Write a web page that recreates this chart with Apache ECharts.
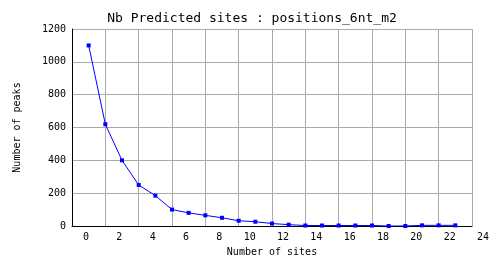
<!DOCTYPE html>
<html>
<head>
<meta charset="utf-8">
<script src="https://cdn.jsdelivr.net/npm/echarts@6/dist/echarts.min.js"></script>
<style>
html,body{margin:0;padding:0;background:#fff;}
#chart{width:504px;height:278px;}
</style>
</head>
<body>
<div id="chart"></div>
<script>
// Data
const siteCounts = [0,1,2,3,4,5,6,7,8,9,10,11,12,13,14,15,16,17,18,19,20,21,22];
const peakCounts = [1100,620,400,250,185,100,80,65,50,32,26,15,8,3,3,3,3,3,0,0,4,4,4];
const xTickLabels = [0,2,4,6,8,10,12,14,16,18,20,22,24];
const yTickLabels = [0,200,400,600,800,1000,1200];

const FONT = 'DejaVu Sans Mono';
const chart = echarts.init(document.getElementById('chart'), null, {renderer:'canvas'});
// points sit one unit right of their label position (x = count + 1)
const seriesData = siteCounts.map((c, i) => [c + 1, peakCounts[i]]);

chart.setOption({
  animation: false,
  backgroundColor: '#ffffff',
  title: {
    text: 'Nb Predicted sites : positions_6nt_m2',
    left: 'center',
    top: 12,
    padding: 0,
    textStyle: {fontFamily: FONT, fontSize: 13, fontWeight: 'normal', color: '#000'}
  },
  grid: {left: 72, right: 32, top: 29, bottom: 52, containLabel: false},
  xAxis: {
    type: 'value',
    min: xTickLabels[0],
    max: xTickLabels[xTickLabels.length - 1],
    interval: 2,
    name: 'Number of sites',
    nameLocation: 'middle',
    nameGap: 21,
    nameTextStyle: {fontFamily: FONT, fontSize: 10, color: '#000'},
    axisLine: {show: true, onZero: false, lineStyle: {color: '#000', width: 1}},
    axisTick: {show: false},
    splitLine: {show: true, lineStyle: {color: '#aaaaaa', width: 1}},
    axisLabel: {
      margin: 6,
      showMinLabel: true,
      showMaxLabel: true,
      formatter: v => '{a|' + v + '}',
      rich: {a: {width: 34, align: 'right', fontFamily: FONT, fontSize: 10, color: '#000'}}
    }
  },
  yAxis: {
    type: 'value',
    min: yTickLabels[0],
    max: yTickLabels[yTickLabels.length - 1],
    interval: 200,
    name: 'Number of peaks',
    nameLocation: 'middle',
    nameGap: 50,
    nameTextStyle: {fontFamily: FONT, fontSize: 10, color: '#000'},
    axisLine: {show: true, lineStyle: {color: '#000', width: 1}},
    axisTick: {show: false},
    splitLine: {show: true, lineStyle: {color: '#aaaaaa', width: 1}},
    axisLabel: {
      margin: 6,
      padding: [5, 0, 0, 0],
      formatter: v => String(v),
      fontFamily: FONT, fontSize: 10, color: '#000'
    }
  },
  series: [{
    type: 'line',
    data: seriesData,
    symbol: 'rect',
    symbolSize: 4,
    showAllSymbol: true,
    lineStyle: {color: '#0000ff', width: 1},
    itemStyle: {color: '#0000ff'},
    z: 3
  }]
});
</script>
</body>
</html>
